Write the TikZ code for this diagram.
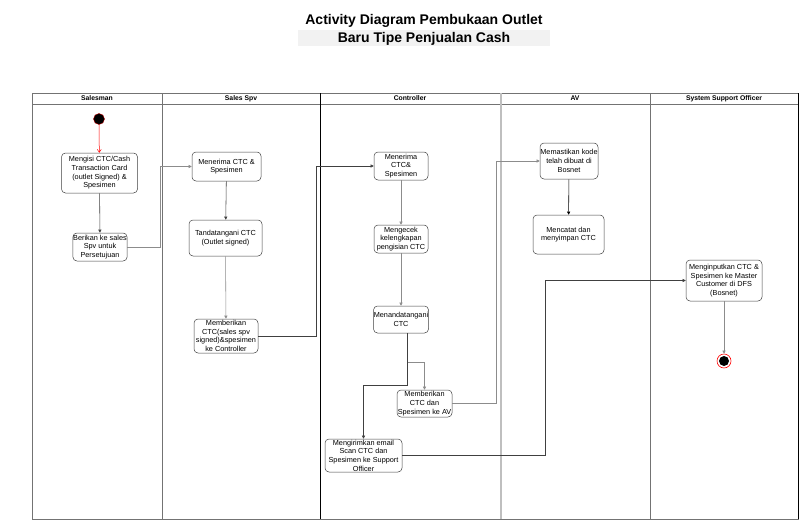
\documentclass[tikz,border=0pt]{standalone}
\usepackage{fontspec}
\setmainfont{Liberation Sans}
\usetikzlibrary{arrows.meta}
\begin{document}
\begin{tikzpicture}[x=1pt,y=-1pt,
  act/.style={draw=black!75, rounded corners=4pt, line width=0.5pt, align=center,
    inner sep=0.3pt, fill=white, font=\fontsize{7.3}{8.7}\selectfont},
  flow/.style={draw=black!75, line width=0.55pt, -{Triangle[length=3.2pt,width=3.2pt]}},
  softflow/.style={flow, draw=black!45},
  lanehead/.style={font=\bfseries\fontsize{6.8}{7.5}\selectfont, inner sep=0pt,
    text height=5pt, text depth=1.5pt},
  lane/.style={draw=black!55, line width=0.5pt},
]
\useasboundingbox (0,0) rectangle (800,522);

% title
\fill[black!5] (298,30) rectangle (550,46);
\node[font=\bfseries\fontsize{14}{18}\selectfont, align=center] (title) at (424,30)
  {Activity Diagram Pembukaan Outlet\\Baru Tipe Penjualan Cash};

% swimlanes
\draw[lane] (32,93) rectangle (798,519);
\draw[lane] (32,104) -- (798,104);
\draw[lane] (162,93) -- (162,519);
\draw[lane] (650,93) -- (650,519);
\draw[draw=black!25, line width=1.3pt] (501,93) -- (501,519);
\draw[black, line width=0.8pt] (320,93) -- (320,519);
\draw[black, line width=0.9pt] (798,93) -- (798,519);

\node[lanehead] (h1) at (97,99) {Salesman};
\node[lanehead] (h2) at (241,99) {Sales Spv};
\node[lanehead] (h3) at (410,99) {Controller};
\node[lanehead] (h4) at (575,99) {AV};
\node[lanehead] (h5) at (724,99) {System Support Officer};

% start and end
\node[circle, fill=black, draw=red!70!black, line width=0.4pt, minimum size=11pt, inner sep=0pt] (start) at (99,119) {};
\node[circle, draw=red, line width=0.6pt, minimum size=14pt, inner sep=0pt] (endring) at (724,361) {};
\node[circle, fill=black, minimum size=10pt, inner sep=0pt] (end) at (724,361) {};

% activities
\node[act, minimum width=76pt, minimum height=40pt] (a) at (99.5,173)
  {Mengisi CTC/Cash\\Transaction Card\\(outlet Signed) \&\\Spesimen};
\node[act, minimum width=54pt, minimum height=28pt] (b) at (100,247)
  {Berikan ke sales\\Spv untuk\\Persetujuan};
\node[act, minimum width=69pt, minimum height=29pt] (c) at (226.5,166.5)
  {Menerima CTC \&\\Spesimen};
\node[act, minimum width=73pt, minimum height=36pt] (d) at (225.5,238)
  {Tandatangani CTC\\(Outlet signed)};
\node[act, minimum width=64pt, minimum height=34pt] (e) at (226,336)
  {Memberikan\\CTC(sales spv\\signed)\&spesimen\\ke Controller};
\node[act, minimum width=54pt, minimum height=28pt] (f) at (401,166)
  {Menerima\\CTC\&\\Spesimen};
\node[act, minimum width=54pt, minimum height=28pt] (g) at (401,239)
  {Mengecek\\kelengkapan\\pengisian CTC};
\node[act, minimum width=54pt, minimum height=27pt] (h) at (401,319.5)
  {Menandatangani\\CTC};
\node[act, minimum width=55pt, minimum height=27pt] (j) at (424.5,403.5)
  {Memberikan\\CTC dan\\Spesimen ke AV};
\node[act, minimum width=77pt, minimum height=33pt] (i) at (363.5,455.5)
  {Mengirimkan email\\Scan CTC dan\\Spesimen ke Support\\Officer};
\node[act, minimum width=58pt, minimum height=36pt] (k) at (569,161)
  {Memastikan kode\\telah dibuat di\\Bosnet};
\node[act, minimum width=71pt, minimum height=39pt] (l) at (568.5,234.5)
  {Mencatat dan\\menyimpan CTC};
\node[act, minimum width=76pt, minimum height=41pt] (m) at (724,280.5)
  {Menginputkan CTC \&\\Spesimen ke Master\\Customer di DFS\\(Bosnet)};

% control flow
\draw[red, line width=0.5pt, -{Straight Barb[length=3pt,width=4pt]}] (start) -- (a);
\draw[flow] (a) -- (b);
\draw[softflow] (b.east) -- ++(33,0) |- (c.west);
\draw[flow] (c) -- (d);
\draw[softflow] (d) -- (e);
\draw[flow] (e.east) -- ++(58,0) |- (f.west);
\draw[softflow] (f) -- (g);
\draw[softflow] (g) -- (h);
\draw[softflow] ([xshift=6pt]h.south) -- ++(0,29) -| (j.north);
\draw[flow] ([xshift=6pt]h.south) -- ++(0,52) -| (i.north);
\draw[softflow] (j.east) -- ++(44,0) |- (k.west);
\draw[flow, draw=black] (k) -- (l);
\draw[flow] (i.east) -- ++(143,0) |- (m.west);
\draw[softflow] (m) -- (endring);
\end{tikzpicture}
\end{document}
